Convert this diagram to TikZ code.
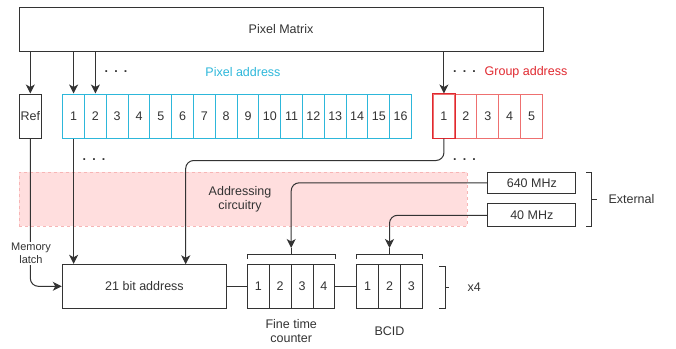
\documentclass[tikz,border=0pt]{standalone}
\usepackage{fontspec}
\setmainfont{Liberation Sans}
\usetikzlibrary{arrows.meta}
\definecolor{ink}{HTML}{333333}
\definecolor{cyanline}{HTML}{2DB7DA}
\definecolor{redline}{HTML}{E0282F}
\definecolor{redsoft}{HTML}{EE7070}
\definecolor{pinkfill}{HTML}{FFDEDE}
\definecolor{pinkdash}{HTML}{F7B5B5}
\tikzset{
  base/.style={font=\fontsize{12.5}{14.5}\selectfont, text=ink},
  box/.style={base, draw=ink, line width=1pt, inner sep=0pt},
  pcell/.style={box, draw=cyanline, minimum width=21.8pt, minimum height=44pt},
  gcell/.style={box, draw=redsoft, minimum width=21.9pt, minimum height=44pt},
  ccell/.style={box, minimum width=21.9pt, minimum height=44pt},
  wire/.style={draw=ink, line width=1pt},
  arr/.style={wire, -{Stealth[length=9pt,width=9pt,inset=2.5pt]}},
  brk/.style={draw=ink, line width=1pt},
  dots/.style={base, font=\fontsize{12.5}{14.5}\selectfont\bfseries, inner sep=0pt},
}
\begin{document}
\begin{tikzpicture}[x=1pt, y=-1pt]
\useasboundingbox (0,0) rectangle (676,348);

% addressing circuitry band (drawn first, underneath the wires)
\node[fill=pinkfill, draw=pinkdash, dashed, line width=0.7pt, minimum width=448pt, minimum height=54pt, inner sep=0pt] (band) at (243,199) {};
\node[base, align=center] (bandtxt) at (240,199.5) {Addressing\\circuitry};

% pixel matrix
\node[box, minimum width=524pt, minimum height=44pt] (pm) at (281,29) {Pixel Matrix};

% reference cell
\node[box, minimum width=22pt, minimum height=44pt] (ref) at (30.3,116) {Ref};

% pixel address register
\foreach \i in {1,...,16}
  \node[pcell] (pa\i) at ({62.7+21.8*(\i-0.5)},116) {\i};
\node[base, text=cyanline] (patxt) at (243,72) {Pixel address};

% group address register
\foreach \i in {1,...,5}
  \node[gcell] (ga\i) at ({433+21.9*(\i-0.5)},116) {\i};
\draw[redline, line width=0.8pt] (ga1.north west) rectangle (ga1.south east);
\node[base, text=redline] (gatxt) at (526,72) {Group address};

% dots
\node[dots] (d1) at (116,72) {.\hspace{6.2pt}.\hspace{6.2pt}.};
\node[dots] (d2) at (464.5,72) {.\hspace{6.2pt}.\hspace{6.2pt}.};
\node[dots] (d3) at (94,160) {.\hspace{6.2pt}.\hspace{6.2pt}.};
\node[dots] (d4) at (464.5,160) {.\hspace{6.2pt}.\hspace{6.2pt}.};

% lower chain
\node[box, minimum width=164.4pt, minimum height=44pt] (addr) at (144.5,286.3) {21 bit address};
\foreach \i in {1,...,4}
  \node[ccell] (ft\i) at ({247.3+21.9*(\i-0.5)},286.3) {\i};
\foreach \i in {1,...,3}
  \node[ccell] (bc\i) at ({356.7+21.9*(\i-0.5)},286.3) {\i};
\node[base, align=center] (fttxt) at (291.2,331) {Fine time\\counter};
\node[base] (bctxt) at (389.5,330.7) {BCID};

% clocks
\node[box, minimum width=87.7pt, minimum height=21pt] (c640) at (531.8,182.8) {640 MHz};
\node[box, minimum width=87.7pt, minimum height=22.7pt] (c40) at (531.8,215.3) {40 MHz};

% brackets
\coordinate (ftb) at (291.2,248);
\draw[brk] (247.3,259) -- (247.3,254) -- (335,254) -- (335,259) (291.2,254) -- (ftb);
\coordinate (bcb) at (389.5,248);
\draw[brk] (356.7,259) -- (356.7,254) -- (422.3,254) -- (422.3,259) (389.5,254) -- (bcb);
\coordinate (extb) at (596.7,199.5);
\draw[brk] (586,172.3) -- (591.7,172.3) -- (591.7,226.7) -- (586,226.7) (591.7,199.5) -- (extb);
\node[base, anchor=west] (exttxt) at (605,199.5) {External};
\coordinate (x4b) at (449,287.5);
\draw[brk] (439.3,266) -- (445,266) -- (445,308.3) -- (439.3,308.3) (445,287.5) -- (x4b);
\node[base, anchor=west] (x4txt) at (464,287.5) {x4};

% connectors from the pixel matrix
\draw[arr] (pm.south -| ref.north) -- (ref.north);
\draw[arr] (pm.south -| pa1.north) -- (pa1.north);
\draw[arr] (pm.south -| pa2.north) -- (pa2.north);
\draw[arr] (pm.south -| ga1.north) -- (ga1.north);

% connectors into the address word
\draw[arr, rounded corners=8pt] (ref.south) -- (ref.south |- addr.west) -- (addr.west);
\draw[arr] (pa1.south) -- (pa1.south |- addr.north);
\draw[arr, rounded corners=8pt] (ga1.south) -- ++(0,22) -| (185.7,264.3);
\node[base, font=\fontsize{11}{13}\selectfont, fill=white, inner sep=1pt, align=center] (latch) at (31,253.5) {Memory\\latch};

% chain links
\draw[wire] (addr.east) -- (ft1.west);
\draw[wire] (ft4.east) -- (bc1.west);

% clock distribution
\draw[arr, rounded corners=8pt] (c640.west) -| (ftb);
\draw[arr, rounded corners=8pt] (c40.west) -| (bcb);
\end{tikzpicture}
\end{document}
